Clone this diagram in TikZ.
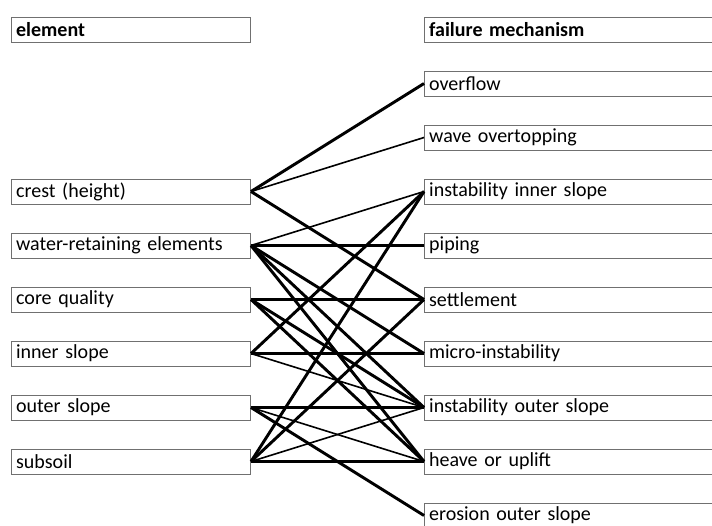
\documentclass[tikz,border=0pt]{standalone}
\usepackage{fontspec}
\setmainfont{Carlito}
\usetikzlibrary{positioning}
\definecolor{boxgray}{RGB}{112,112,112}

\begin{document}
\begin{tikzpicture}[x=0.75pt, y=-0.75pt, font=\fontsize{15}{17}\selectfont,
    box/.style={draw=boxgray, line width=0.75pt, anchor=west, inner xsep=3.5pt, inner ysep=0pt,
                minimum height=18.75pt, align=left},
    lbox/.style={box, text width=172.25pt},
    rbox/.style={box, text width=240pt},
    link/.style={line width=2.2pt},
    medlink/.style={line width=1.6pt},
    thinlink/.style={line width=1.2pt}]
  \clip (0,0) rectangle (712,525);

  % headers
  \node[lbox, font=\fontsize{15}{17}\selectfont\bfseries] (element) at (11,29.5) {element};
  \node[rbox, font=\fontsize{15}{17}\selectfont\bfseries] (mechanism) at (424,29.5) {failure mechanism};

  % elements
  \foreach \n/\t [count=\i] in {crest/crest (height), water/water-retaining elements,
      core/core quality, inner/inner slope, outer/outer slope, subsoil/subsoil}
    \node[lbox] (\n) at (11,137.5+54*\i) {\t};

  % failure mechanisms
  \foreach \n/\t [count=\i] in {overflow/overflow, wave/wave overtopping,
      instin/instability inner slope, piping/piping, settle/settlement,
      micro/micro-instability, instout/instability outer slope,
      heave/heave or uplift, erosion/erosion outer slope}
    \node[rbox] (\n) at (424,29.5+54*\i) {\t};

  % connections
  \foreach \a/\b in {crest/overflow, crest/settle, water/micro, water/instout, water/heave,
      core/settle, core/instout, core/heave, inner/instin, inner/micro,
      outer/erosion, subsoil/instin, subsoil/settle}
    \draw[link] (\a.east) -- (\b.west);
  \foreach \a/\b in {water/piping, outer/instout, subsoil/heave}
    \draw[medlink] (\a.east) -- (\b.west);
  \foreach \a/\b in {crest/wave, water/instin, inner/instout, outer/heave, subsoil/instout}
    \draw[thinlink] (\a.east) -- (\b.west);
\end{tikzpicture}
\end{document}
